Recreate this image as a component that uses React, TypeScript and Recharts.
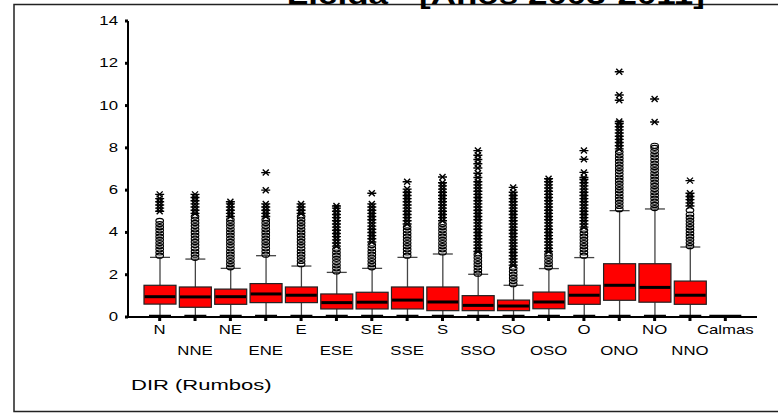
import { ComposedChart, Bar, Scatter, XAxis, YAxis } from 'recharts';

// wind speed by direction, SPSS-style boxplot
const categories = ['N', 'NNE', 'NE', 'ENE', 'E', 'ESE', 'SE', 'SSE', 'S', 'SSO', 'SO', 'OSO', 'O', 'ONO', 'NO', 'NNO', 'Calmas'];
const whiskerLow = [0, 0, 0, 0, 0, 0, 0, 0, 0, 0, 0, 0, 0, 0, 0, 0, 0];
const q1 = [0.61, 0.46, 0.6, 0.68, 0.68, 0.38, 0.38, 0.38, 0.3, 0.3, 0.3, 0.39, 0.6, 0.79, 0.7, 0.6, 0];
const median = [0.96, 0.95, 0.96, 1.09, 1.03, 0.68, 0.7, 0.8, 0.71, 0.55, 0.52, 0.71, 1.03, 1.5, 1.4, 1.03, 0];
const q3 = [1.5, 1.42, 1.32, 1.58, 1.42, 1.09, 1.17, 1.42, 1.42, 1.01, 0.8, 1.18, 1.5, 2.52, 2.52, 1.7, 0];
const whiskerHigh = [2.82, 2.74, 2.3, 2.9, 2.41, 2.11, 2.3, 2.82, 2.98, 2.02, 1.5, 2.29, 2.81, 5.03, 5.11, 3.31, 0];

const outliers = [
  [2.9, 3.05, 3.2, 3.35, 3.5, 3.65, 3.8, 3.95, 4.1, 4.25, 4.4, 4.55],
  [2.8, 2.95, 3.1, 3.25, 3.4, 3.55, 3.7, 3.85, 4.0, 4.15, 4.3, 4.45, 4.6, 4.75],
  [2.35, 2.5, 2.65, 2.8, 2.95, 3.1, 3.25, 3.4, 3.55, 3.7, 3.85, 4.0, 4.15, 4.3, 4.45, 4.6],
  [2.95, 3.1, 3.25, 3.4, 3.55, 3.7, 3.85, 4.0, 4.15, 4.3, 4.45, 4.6],
  [2.5, 2.65, 2.8, 2.95, 3.1, 3.25, 3.4, 3.55, 3.7, 3.85, 4.0, 4.15, 4.3, 4.45, 4.6, 4.75],
  [2.15, 2.3, 2.45, 2.6, 2.75, 2.9, 3.05, 3.2],
  [2.35, 2.5, 2.65, 2.8, 2.95, 3.1, 3.25, 3.4],
  [2.9, 3.05, 3.2, 3.35, 3.5, 3.65, 3.8, 3.95, 4.1, 4.25],
  [3.05, 3.2, 3.35, 3.5, 3.65, 3.8, 3.95, 4.1, 4.25, 4.4],
  [2.05, 2.2, 2.35, 2.5, 2.65, 2.8, 2.95],
  [1.55, 1.7, 1.85, 2.0, 2.15, 2.3],
  [2.35, 2.5, 2.65, 2.8, 2.95],
  [2.9, 3.05, 3.2, 3.35, 3.5, 3.65, 3.8, 3.95, 4.1],
  [5.1, 5.25, 5.4, 5.55, 5.7, 5.85, 6.0, 6.15, 6.3, 6.45, 6.6, 6.75, 6.9, 7.05, 7.2, 7.35, 7.5, 7.65, 7.8],
  [5.15, 5.3, 5.45, 5.6, 5.75, 5.9, 6.05, 6.2, 6.35, 6.5, 6.65, 6.8, 6.95, 7.1, 7.25, 7.4, 7.55, 7.7, 7.85, 8.0, 8.1],
  [3.35, 3.5, 3.65, 3.8, 3.95, 4.1, 4.25, 4.4, 4.55, 4.7, 4.85, 5.05],
  [],
];
const extremes = [
  [5.0, 5.15, 5.3, 5.45, 5.6, 5.8],
  [4.9, 5.05, 5.2, 5.35, 5.5, 5.65, 5.8],
  [4.75, 4.9, 5.05, 5.2, 5.35, 5.45],
  [4.75, 4.9, 5.05, 5.2, 5.35, 6.0, 6.83],
  [4.9, 5.05, 5.2, 5.35],
  [3.35, 3.5, 3.65, 3.8, 3.95, 4.1, 4.25, 4.4, 4.55, 4.7, 4.85, 5.0, 5.15, 5.25],
  [3.55, 3.7, 3.85, 4.0, 4.15, 4.3, 4.45, 4.6, 4.75, 4.9, 5.05, 5.2, 5.35, 5.85],
  [4.4, 4.55, 4.7, 4.85, 5.0, 5.15, 5.3, 5.45, 5.6, 5.75, 5.9, 6.05, 6.4],
  [4.55, 4.7, 4.85, 5.0, 5.15, 5.3, 5.45, 5.6, 5.75, 5.9, 6.05, 6.2, 6.35, 6.62],
  [3.1, 3.25, 3.4, 3.55, 3.7, 3.85, 4.0, 4.15, 4.3, 4.45, 4.6, 4.75, 4.9, 5.05, 5.2, 5.35, 5.5, 5.65, 5.8, 5.95, 6.1, 6.25, 6.4, 6.6, 6.8, 7.05, 7.25, 7.45, 7.65, 7.87],
  [2.45, 2.6, 2.75, 2.9, 3.05, 3.2, 3.35, 3.5, 3.65, 3.8, 3.95, 4.1, 4.25, 4.4, 4.55, 4.7, 4.85, 5.0, 5.15, 5.3, 5.45, 5.6, 5.75, 5.9, 6.13],
  [3.1, 3.25, 3.4, 3.55, 3.7, 3.85, 4.0, 4.15, 4.3, 4.45, 4.6, 4.75, 4.9, 5.05, 5.2, 5.35, 5.5, 5.65, 5.8, 5.95, 6.1, 6.25, 6.4, 6.54],
  [4.25, 4.4, 4.55, 4.7, 4.85, 5.0, 5.15, 5.3, 5.45, 5.6, 5.75, 5.9, 6.05, 6.2, 6.35, 6.5, 6.6, 6.84, 7.46, 7.87],
  [7.95, 8.1, 8.25, 8.4, 8.55, 8.7, 8.85, 9.0, 9.15, 9.25, 10.25, 10.5, 11.6],
  [9.22, 10.31],
  [5.25, 5.4, 5.55, 5.7, 5.85, 6.45],
  [],
];
const yTicks = [0, 2, 4, 6, 8, 10, 12, 14];

const boxData = categories.map((name, i) => ({
  name,
  range: [whiskerLow[i], whiskerHigh[i]],
  q1: q1[i],
  median: median[i],
  q3: q3[i],
}));
// directions whose box collapses to a single value (Calmas)
const flatPoints = categories
  .map((name, i) => ({ name, v: median[i], flat: q3[i] === q1[i] }))
  .filter((d) => d.flat);
const outlierPoints = categories.flatMap((name, i) => outliers[i].map((v) => ({ name, v })));
const extremePoints = categories.flatMap((name, i) => extremes[i].map((v) => ({ name, v })));

const FONT = 'Arial, "Liberation Sans", sans-serif';

const BoxShape = (props: any) => {
  const { x, y, width, height, payload } = props;
  const [lo, hi] = payload.range;
  if (!(hi > lo)) return null;
  const bottom = y + height;
  const cx = x + width / 2;
  const k = height / (hi - lo);
  const py = (v: number) => bottom - (v - lo) * k;
  return (
    <g>
      <line x1={cx} x2={cx} y1={py(hi)} y2={py(payload.q3)} stroke="#444" strokeWidth={1.3} />
      <line x1={cx - 10} x2={cx + 10} y1={py(hi)} y2={py(hi)} stroke="#444" strokeWidth={1.3} />
      <line x1={cx} x2={cx} y1={py(payload.q1)} y2={py(lo)} stroke="#444" strokeWidth={1.3} />
      <line x1={cx - 11} x2={cx + 11} y1={py(lo) - 1} y2={py(lo) - 1} stroke="#000" strokeWidth={2.5} />
      <rect
        x={x}
        y={py(payload.q3)}
        width={width}
        height={py(payload.q1) - py(payload.q3)}
        fill="#ff0000"
        stroke="#222"
        strokeWidth={1.2}
      />
      <line x1={x + 0.6} x2={x + width - 0.6} y1={py(payload.median)} y2={py(payload.median)} stroke="#000" strokeWidth={3} />
    </g>
  );
};

const FlatBox = (props: any) => (
  <line x1={props.cx - 16} x2={props.cx + 16} y1={props.cy - 1} y2={props.cy - 1} stroke="#000" strokeWidth={2.5} />
);

const Ring = (props: any) => (
  <ellipse cx={props.cx} cy={props.cy} rx={3.8} ry={2.5} fill="none" stroke="#000" strokeWidth={1.15} />
);

const Star = (props: any) => {
  const { cx, cy } = props;
  return (
    <g stroke="#000" strokeWidth={1.4}>
      <line x1={cx - 4.5} x2={cx + 4.5} y1={cy} y2={cy} />
      <line x1={cx - 3} x2={cx + 3} y1={cy - 3} y2={cy + 3} />
      <line x1={cx - 3} x2={cx + 3} y1={cy + 3} y2={cy - 3} />
    </g>
  );
};

const XTick = (props: any) => {
  const { x, y, payload } = props;
  const row = categories.indexOf(payload.value) % 2;
  return (
    <text
      transform={`translate(${x},${y + (row ? 32 : 11)}) scale(1.4,1)`}
      textAnchor="middle"
      fontSize={12}
      fontFamily={FONT}
      fill="#000"
    >
      {payload.value}
    </text>
  );
};

const YTick = (props: any) => {
  const { x, y, payload } = props;
  return (
    <text transform={`translate(${x},${y + 4}) scale(1.4,1)`} textAnchor="end" fontSize={12} fontFamily={FONT} fill="#000">
      {payload.value}
    </text>
  );
};

export default function App() {
  return (
    <div style={{ position: 'absolute', left: 0, top: 0, width: 778, height: 415, overflow: 'hidden', background: '#fff' }}>
      <svg width={778} height={415} style={{ position: 'absolute', left: 0, top: 0 }}>
        <rect x={14} y={4.5} width={800} height={407} fill="none" stroke="#222" strokeWidth={1.5} />
        <text transform="translate(705,4) scale(1.4,1)" textAnchor="end" fontSize={25} fontWeight="bold" fontFamily={FONT} fill="#000">
          Lleida - [Años 2003-2011]
        </text>
        <text transform="translate(131,390) scale(1.42,1)" fontSize={15.5} fontFamily={FONT} fill="#000">
          DIR (Rumbos)
        </text>
      </svg>
      <div style={{ position: 'absolute', left: 0, top: 0 }}>
        <ComposedChart width={778} height={415} data={boxData} margin={{ top: 21, right: 21, bottom: 38, left: 80 }}>
          <XAxis
            dataKey="name"
            type="category"
            allowDuplicatedCategory={false}
            padding={{ left: 14, right: 14 }}
            height={60}
            interval={0}
            tick={<XTick />}
            tickSize={4}
            tickMargin={2}
            tickLine={{ stroke: '#000', strokeWidth: 3 }}
            axisLine={{ stroke: '#000', strokeWidth: 2 }}
          />
          <XAxis xAxisId="top" orientation="top" dataKey="name" height={0} tick={false} tickLine={false} axisLine={{ stroke: '#222', strokeWidth: 1 }} />
          <YAxis
            domain={[0, 14]}
            ticks={yTicks}
            width={48}
            tick={<YTick />}
            tickSize={3}
            tickMargin={7}
            tickLine={{ stroke: '#000', strokeWidth: 3 }}
            axisLine={{ stroke: '#000', strokeWidth: 2 }}
            allowDataOverflow
          />
          <YAxis yAxisId="right" orientation="right" width={0} tick={false} tickLine={false} axisLine={{ stroke: '#222', strokeWidth: 1 }} />
          <Bar dataKey="range" barSize={32} shape={<BoxShape />} isAnimationActive={false} />
          <Scatter data={flatPoints} dataKey="v" shape={<FlatBox />} isAnimationActive={false} />
          <Scatter data={outlierPoints} dataKey="v" shape={<Ring />} isAnimationActive={false} />
          <Scatter data={extremePoints} dataKey="v" shape={<Star />} isAnimationActive={false} />
        </ComposedChart>
      </div>
    </div>
  );
}
